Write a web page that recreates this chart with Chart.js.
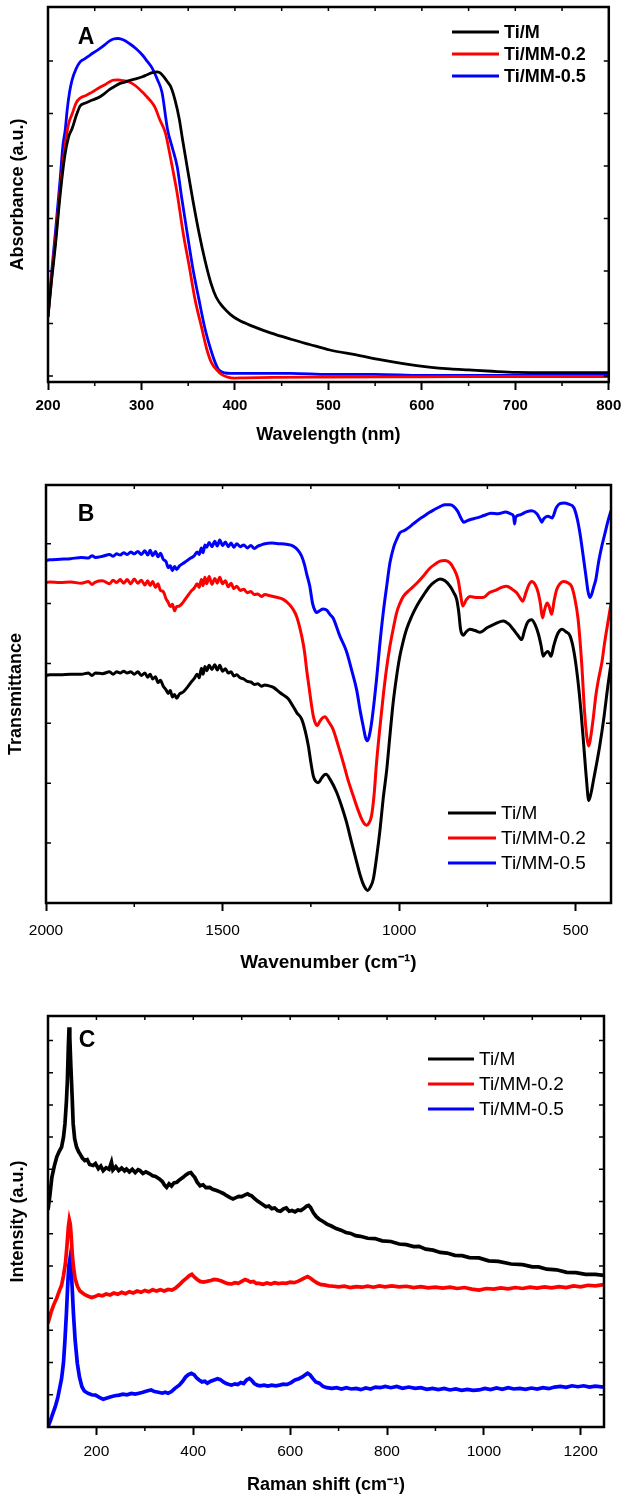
<!DOCTYPE html>
<html>
<head>
<meta charset="utf-8">
<script src="https://cdn.jsdelivr.net/npm/chart.js@4.4.0/dist/chart.umd.min.js"></script>
<style>
  html, body { margin: 0; padding: 0; background: #fff; }
  canvas { display: block; }
</style>
</head>
<body>
<canvas id="chart-a" width="628" height="470"></canvas>
<canvas id="chart-b" width="628" height="510"></canvas>
<canvas id="chart-c" width="628" height="518"></canvas>
<script>
const FONT = "'Liberation Sans', Arial, Helvetica, sans-serif";
Chart.defaults.font.family = FONT;
Chart.defaults.color = '#000';

const seriesNames = ['Ti/M', 'Ti/MM-0.2', 'Ti/MM-0.5'];
const seriesColors = ['#000000', '#ff0000', '#0000ff'];

// (A) UV-Vis absorbance, [wavelength nm, a.u.]
const uvTicks = [200, 300, 400, 500, 600, 700, 800];
const uvTiM = [[200,0.225],[204,0.37],[208,0.50],[213,0.69],[218,0.84],[222,0.91],[226,0.945],[230,0.99],[234.4,1.029],[240,1.04],[245,1.048],[250,1.055],[255.6,1.064],[261,1.078],[266,1.092],[272,1.105],[277,1.115],[282,1.12],[287,1.126],[294,1.132],[301,1.14],[306,1.148],[311.6,1.156],[316,1.159],[320,1.155],[324,1.14],[328,1.12],[331.6,1.10],[336,1.05],[340.4,0.98],[344,0.90],[348.9,0.796],[355,0.67],[361.6,0.545],[368,0.44],[374.3,0.354],[380,0.30],[387.1,0.263],[395,0.235],[404,0.213],[420,0.188],[438,0.164],[460,0.14],[480,0.12],[501.6,0.099],[530,0.08],[556.7,0.061],[580,0.047],[607.6,0.034],[630,0.027],[650,0.023],[675,0.018],[701,0.014],[750,0.013],[800,0.0125]];
const uvTiMM02 = [[200,0.225],[204,0.38],[208,0.52],[213,0.71],[218,0.87],[222,0.96],[226,1.0],[230,1.04],[234.4,1.059],[240,1.068],[245,1.077],[250,1.088],[255.6,1.10],[261,1.11],[266,1.121],[270,1.127],[275,1.128],[281,1.125],[287,1.12],[294,1.105],[301,1.082],[306,1.063],[311.6,1.04],[315,1.02],[319.2,0.98],[325.6,0.926],[329,0.87],[333,0.796],[338,0.70],[344.6,0.545],[351,0.42],[357.4,0.29],[364,0.19],[370.1,0.099],[375,0.05],[380.7,0.023],[386,0.005],[392,-0.004],[399.8,-0.008],[410,-0.007],[440,-0.005],[500,-0.004],[600,-0.003],[700,-0.002],[800,-0.002]];
const uvTiMM05 = [[200,0.225],[204,0.40],[208,0.55],[213,0.75],[216,0.88],[218.5,0.94],[220.5,1.013],[223,1.08],[225.8,1.128],[230,1.17],[234.4,1.197],[240,1.21],[245,1.223],[250,1.235],[255.6,1.248],[261,1.263],[266,1.277],[270,1.284],[275,1.286],[281,1.28],[287,1.267],[294,1.248],[301,1.223],[306,1.2],[311.6,1.172],[317,1.13],[322,1.08],[328,0.937],[333,0.87],[338.3,0.796],[343,0.68],[348.9,0.545],[355,0.41],[361.6,0.29],[368,0.18],[374.3,0.099],[379,0.05],[382.8,0.023],[389,0.012],[395.5,0.01],[420,0.01],[460,0.01],[500,0.006],[550,0.006],[600,0.002],[700,0.002],[800,0.002]];

// (B) FTIR transmittance, [wavenumber cm-1, a.u.]
const irTicks = [2000, 1500, 1000, 500];
const irTiM = [[2000,3.80],[1990,3.81],[1960,3.81],[1930,3.82],[1900,3.82],[1880,3.84],[1870,3.80],[1860,3.84],[1840,3.83],[1820,3.86],[1810,3.82],[1800,3.86],[1790,3.84],[1780,3.87],[1770,3.84],[1760,3.86],[1750,3.82],[1740,3.86],[1730,3.80],[1720,3.84],[1712,3.77],[1705,3.82],[1698,3.74],[1690,3.78],[1683,3.68],[1676,3.72],[1668,3.62],[1660,3.56],[1654,3.50],[1648,3.55],[1642,3.44],[1636,3.48],[1630,3.42],[1622,3.49],[1612,3.52],[1600,3.60],[1590,3.68],[1580,3.75],[1572,3.82],[1566,3.76],[1560,3.92],[1555,3.82],[1550,3.95],[1545,3.88],[1538,3.97],[1530,3.90],[1522,3.98],[1515,3.89],[1508,3.97],[1500,3.87],[1492,3.91],[1484,3.84],[1476,3.86],[1468,3.79],[1460,3.81],[1450,3.76],[1440,3.74],[1430,3.70],[1420,3.69],[1410,3.65],[1400,3.66],[1390,3.62],[1380,3.64],[1371,3.63],[1356,3.60],[1337,3.51],[1314,3.41],[1300,3.28],[1290,3.18],[1276,3.07],[1265,2.85],[1257,2.62],[1250,2.35],[1243,2.12],[1236,2.03],[1229,2.01],[1220,2.08],[1212,2.14],[1207,2.15],[1195,2.06],[1177,1.85],[1163,1.62],[1149,1.35],[1135,1.02],[1120,0.68],[1110,0.46],[1102,0.32],[1095,0.24],[1089,0.21],[1082,0.26],[1073,0.4],[1063,0.8],[1054,1.23],[1045,1.75],[1035,2.23],[1026,2.8],[1017,3.34],[1008,3.75],[998,4.12],[988,4.38],[979,4.57],[965,4.78],[950,4.96],[930,5.15],[913,5.29],[900,5.36],[884,5.41],[870,5.38],[856,5.29],[845,5.18],[837,5.07],[831,4.85],[826,4.57],[818,4.47],[810,4.53],[800,4.57],[785,4.55],[771,4.52],[750,4.6],[733,4.65],[705,4.71],[690,4.66],[677,4.57],[665,4.48],[653,4.4],[645,4.55],[637,4.68],[625,4.73],[615,4.65],[606,4.5],[598,4.3],[592,4.12],[586,4.17],[579,4.2],[574,4.16],[570,4.12],[562,4.3],[553,4.47],[545,4.55],[539,4.57],[528,4.53],[516,4.46],[505,4.2],[494,3.73],[485,3.2],[477,2.62],[470,2.1],[463,1.71],[456,1.85],[449,2.07],[440,2.35],[432,2.62],[420,3.1],[409,3.62],[400,4.0]];
const irTiMM02 = [[2000,5.35],[1990,5.36],[1960,5.35],[1930,5.36],[1900,5.34],[1880,5.37],[1870,5.32],[1860,5.36],[1840,5.38],[1820,5.33],[1810,5.39],[1800,5.35],[1790,5.40],[1780,5.34],[1770,5.40],[1760,5.33],[1750,5.41],[1740,5.34],[1730,5.39],[1720,5.31],[1712,5.38],[1705,5.30],[1698,5.37],[1690,5.27],[1683,5.33],[1676,5.22],[1668,5.20],[1660,5.08],[1654,5.02],[1648,4.95],[1642,4.99],[1636,4.88],[1630,4.95],[1622,4.96],[1612,5.02],[1600,5.12],[1590,5.20],[1580,5.26],[1572,5.33],[1566,5.27],[1560,5.40],[1555,5.30],[1550,5.44],[1545,5.33],[1538,5.45],[1530,5.32],[1522,5.42],[1515,5.34],[1508,5.44],[1500,5.33],[1492,5.38],[1484,5.28],[1476,5.34],[1468,5.25],[1460,5.29],[1450,5.22],[1440,5.24],[1430,5.18],[1420,5.20],[1410,5.15],[1400,5.16],[1390,5.12],[1380,5.15],[1366,5.13],[1350,5.11],[1328,5.07],[1310,4.98],[1300,4.9],[1290,4.78],[1276,4.46],[1268,4.2],[1262,3.9],[1255,3.6],[1248,3.3],[1243,3.12],[1237,3.0],[1232,2.96],[1225,3.03],[1217,3.09],[1210,3.11],[1200,3.03],[1187,2.9],[1172,2.62],[1158,2.34],[1145,2.06],[1130,1.79],[1118,1.58],[1106,1.4],[1098,1.32],[1092,1.3],[1085,1.34],[1078,1.46],[1071,1.8],[1064,2.34],[1055,2.9],[1045,3.46],[1036,3.9],[1026,4.29],[1016,4.6],[1007,4.85],[998,5.0],[988,5.12],[970,5.23],[950,5.34],[930,5.47],[913,5.59],[900,5.65],[884,5.71],[870,5.72],[856,5.68],[845,5.58],[833,5.40],[826,5.15],[820,4.96],[810,5.06],[800,5.12],[780,5.1],[762,5.10],[745,5.18],[724,5.23],[710,5.27],[696,5.29],[680,5.24],[667,5.18],[658,5.10],[650,5.04],[640,5.2],[632,5.32],[625,5.37],[615,5.32],[606,5.18],[600,5.0],[594,4.76],[588,4.9],[581,5.01],[575,4.95],[568,4.82],[561,5.05],[554,5.23],[545,5.33],[535,5.37],[523,5.35],[512,5.29],[503,5.1],[493,4.73],[483,4.0],[475,3.2],[468,2.75],[463,2.62],[458,2.75],[450,3.1],[443,3.46],[435,3.75],[426,4.01],[418,4.35],[409,4.68],[400,5.0]];
const irTiMM05 = [[2000,5.72],[1990,5.73],[1960,5.74],[1930,5.75],[1900,5.77],[1880,5.76],[1870,5.80],[1860,5.77],[1840,5.79],[1820,5.82],[1810,5.79],[1800,5.83],[1790,5.81],[1780,5.85],[1770,5.82],[1760,5.86],[1750,5.83],[1740,5.87],[1730,5.82],[1720,5.88],[1712,5.81],[1705,5.89],[1698,5.80],[1690,5.87],[1683,5.78],[1676,5.84],[1668,5.74],[1660,5.70],[1654,5.60],[1648,5.63],[1642,5.55],[1636,5.62],[1630,5.57],[1622,5.63],[1612,5.67],[1600,5.72],[1590,5.76],[1580,5.80],[1572,5.86],[1566,5.82],[1560,5.93],[1555,5.85],[1550,5.98],[1545,5.94],[1538,6.02],[1530,5.95],[1522,6.04],[1515,5.96],[1508,6.06],[1500,5.97],[1492,6.03],[1484,5.95],[1476,6.01],[1468,5.94],[1460,6.00],[1450,5.95],[1440,5.98],[1430,5.93],[1420,5.97],[1410,5.92],[1400,5.96],[1390,5.98],[1380,6.00],[1360,6.01],[1340,6.00],[1320,5.99],[1300,5.96],[1285,5.88],[1276,5.79],[1268,5.65],[1262,5.50],[1253,5.29],[1245,5.00],[1238,4.88],[1234,4.85],[1225,4.88],[1215,4.91],[1205,4.89],[1196,4.82],[1187,4.76],[1168,4.46],[1149,4.2],[1135,3.9],[1120,3.55],[1110,3.2],[1102,2.96],[1095,2.76],[1090,2.71],[1085,2.78],[1078,3.01],[1070,3.4],[1064,3.73],[1055,4.3],[1045,4.85],[1035,5.3],[1026,5.68],[1015,5.95],[1007,6.07],[998,6.18],[985,6.22],[975,6.26],[960,6.33],[945,6.4],[930,6.46],[915,6.52],[900,6.57],[884,6.62],[870,6.65],[856,6.65],[845,6.62],[834,6.54],[825,6.43],[817,6.36],[808,6.38],[800,6.40],[780,6.43],[760,6.47],[740,6.51],[720,6.50],[698,6.53],[685,6.50],[676,6.46],[673,6.33],[670,6.44],[658,6.48],[640,6.53],[624,6.55],[610,6.50],[600,6.40],[596,6.36],[590,6.42],[579,6.46],[567,6.43],[555,6.60],[545,6.67],[533,6.68],[520,6.66],[505,6.60],[495,6.40],[488,6.18],[480,5.85],[471,5.46],[465,5.2],[460,5.1],[455,5.15],[448,5.3],[443,5.4],[435,5.7],[426,5.96],[418,6.15],[409,6.37],[400,6.55]];

// (C) Raman intensity, [shift cm-1, a.u.]
const ramanTicks = [200, 400, 600, 800, 1000, 1200];
const ramanTiM = [[100,6.74],[104,7.2],[108,7.75],[113,8.1],[118,8.38],[123,8.55],[128,8.69],[132,9.0],[135,9.41],[138,10.1],[140,10.75],[142,11.8],[143.5,12.41],[145,12.1],[147,11.27],[150,10.2],[152,9.41],[155,8.95],[159,8.69],[163,8.55],[166,8.48],[171,8.35],[176,8.27],[181,8.3],[186,8.15],[193,8.12],[198,8.18],[204,8.02],[209,8.1],[214,7.96],[220,8.05],[226,8.0],[231,8.22],[234,7.98],[240,8.08],[246,7.96],[252,8.04],[258,7.95],[262,8.01],[268,7.92],[274,8.0],[280,7.9],[286,7.99],[290,7.96],[296,7.87],[302,7.92],[310,7.86],[316,7.8],[322,7.78],[330,7.7],[336,7.62],[341,7.5],[345,7.44],[350,7.55],[355,7.48],[360,7.58],[366,7.6],[372,7.68],[379,7.75],[384,7.82],[390,7.88],[395,7.9],[399,7.82],[403,7.75],[408,7.6],[414,7.49],[420,7.52],[426,7.43],[434,7.44],[440,7.38],[448,7.34],[455,7.3],[462,7.25],[469,7.18],[476,7.12],[482,7.08],[488,7.12],[494,7.16],[500,7.15],[506,7.2],[512,7.24],[516,7.2],[520,7.18],[526,7.1],[532,7.02],[538,6.96],[544,6.9],[550,6.84],[556,6.86],[562,6.78],[568,6.8],[574,6.72],[580,6.7],[586,6.77],[592,6.8],[598,6.7],[604,6.72],[610,6.68],[616,6.74],[622,6.72],[628,6.78],[634,6.86],[638,6.88],[642,6.82],[648,6.65],[654,6.53],[660,6.45],[668,6.38],[676,6.3],[685,6.24],[695,6.16],[705,6.11],[715,6.04],[725,6.01],[735,5.94],[745,5.92],[760,5.86],[775,5.85],[790,5.78],[808,5.76],[825,5.68],[840,5.66],[855,5.6],[866,5.61],[880,5.52],[895,5.49],[910,5.42],[924,5.4],[940,5.33],[955,5.32],[970,5.26],[990,5.25],[1010,5.16],[1030,5.14],[1056,5.06],[1080,5.04],[1100,4.97],[1113,4.97],[1130,4.9],[1150,4.88],[1171,4.8],[1190,4.79],[1210,4.74],[1230,4.74],[1248,4.71]];
const ramanTiMM02 = [[100,3.22],[106,3.55],[112,3.8],[118,4.0],[124,4.25],[128,4.4],[132,4.7],[136,5.08],[139,5.6],[142,6.2],[144,6.43],[146,6.3],[148,5.9],[150,5.4],[152.5,4.98],[156,4.6],[161,4.36],[166,4.22],[172,4.15],[177,4.1],[183,4.06],[190,4.02],[197,4.05],[204,4.1],[212,4.07],[220,4.13],[228,4.1],[236,4.16],[244,4.12],[252,4.18],[260,4.14],[268,4.2],[276,4.16],[284,4.22],[292,4.18],[300,4.24],[308,4.2],[316,4.26],[324,4.22],[332,4.26],[340,4.22],[348,4.27],[356,4.25],[363,4.31],[370,4.4],[378,4.52],[386,4.62],[392,4.7],[397,4.74],[402,4.66],[408,4.58],[414,4.52],[421,4.5],[428,4.52],[436,4.55],[443,4.58],[450,4.57],[458,4.53],[466,4.48],[472,4.45],[479,4.44],[486,4.48],[493,4.46],[500,4.52],[507,4.58],[512,4.55],[518,4.5],[524,4.52],[530,4.46],[536,4.46],[544,4.43],[552,4.47],[560,4.44],[568,4.48],[576,4.45],[584,4.47],[592,4.46],[600,4.5],[608,4.48],[616,4.52],[624,4.58],[630,4.63],[636,4.67],[642,4.62],[648,4.55],[656,4.47],[664,4.42],[670,4.41],[680,4.38],[690,4.37],[700,4.35],[712,4.37],[724,4.33],[736,4.36],[748,4.34],[760,4.37],[772,4.34],[784,4.38],[796,4.35],[810,4.38],[825,4.35],[840,4.37],[855,4.33],[870,4.36],[885,4.32],[900,4.34],[915,4.31],[930,4.34],[945,4.3],[960,4.33],[975,4.28],[990,4.25],[1005,4.3],[1020,4.28],[1035,4.32],[1050,4.29],[1065,4.33],[1080,4.3],[1095,4.34],[1110,4.31],[1125,4.35],[1140,4.32],[1155,4.36],[1170,4.33],[1185,4.38],[1200,4.35],[1215,4.4],[1230,4.38],[1248,4.42]];
const ramanTiMM05 = [[100,0.01],[105,0.2],[110,0.42],[115,0.63],[120,0.9],[124,1.2],[128,1.5],[132,2.0],[135,2.7],[138,3.53],[141,4.5],[143,5.0],[145.5,5.24],[147.5,5.0],[150,4.3],[152.5,3.53],[156,2.7],[160.5,1.98],[165,1.55],[170,1.25],[175,1.12],[182,1.05],[190,1.0],[198,0.99],[206,0.92],[214,0.86],[222,0.9],[230,0.94],[238,0.97],[247,0.99],[255,1.02],[263,1.0],[272,1.04],[280,1.02],[288,1.05],[296,1.08],[304,1.12],[313,1.15],[320,1.1],[328,1.08],[336,1.05],[342,1.08],[348,1.05],[355,1.1],[362,1.2],[371,1.3],[378,1.42],[384,1.55],[390,1.63],[396,1.67],[402,1.62],[407,1.52],[412,1.46],[418,1.4],[424,1.42],[429,1.36],[436,1.42],[443,1.46],[450,1.5],[456,1.47],[462,1.4],[468,1.35],[474,1.32],[479,1.3],[486,1.34],[492,1.32],[498,1.38],[504,1.35],[510,1.46],[516,1.51],[520,1.46],[526,1.35],[532,1.3],[538,1.28],[546,1.3],[554,1.27],[562,1.3],[570,1.28],[578,1.3],[586,1.33],[594,1.32],[602,1.38],[610,1.46],[618,1.5],[626,1.56],[632,1.63],[636,1.67],[641,1.62],[647,1.5],[653,1.4],[660,1.36],[668,1.26],[676,1.22],[686,1.2],[696,1.22],[706,1.18],[716,1.22],[726,1.18],[736,1.2],[746,1.16],[756,1.21],[766,1.18],[776,1.24],[786,1.22],[796,1.26],[808,1.22],[820,1.26],[832,1.2],[845,1.24],[858,1.2],[870,1.22],[882,1.17],[894,1.2],[906,1.16],[918,1.2],[930,1.15],[942,1.18],[954,1.14],[966,1.17],[978,1.14],[990,1.15],[1002,1.2],[1014,1.16],[1026,1.21],[1038,1.17],[1050,1.22],[1062,1.18],[1074,1.2],[1086,1.17],[1098,1.21],[1110,1.18],[1122,1.22],[1134,1.19],[1146,1.24],[1158,1.26],[1170,1.23],[1182,1.28],[1194,1.25],[1206,1.28],[1218,1.24],[1230,1.27],[1248,1.24]];

// tick mark positions between the labelled ones
function range(a, b, step) {
    const out = [];
    for (let v = a; v <= b + 1e-9; v += step) out.push(+v.toFixed(4));
    return out;
}

// box, inner ticks, panel letter and legend
const panelPlugin = {
    id: 'panel',
    afterDraw(chart, args, o) {
        const { ctx, chartArea: a } = chart;
        const xs = chart.scales.x, ys = chart.scales.y;
        ctx.save();
        ctx.strokeStyle = '#000';
        ctx.lineWidth = 1.5;
        ctx.beginPath();
        o.yMarks.forEach(v => {
            const py = ys.getPixelForValue(v);
            ctx.moveTo(a.left, py); ctx.lineTo(a.left + 5, py);
            ctx.moveTo(a.right, py); ctx.lineTo(a.right - 5, py);
        });
        o.topMarks.forEach(v => {
            const px = xs.getPixelForValue(v);
            ctx.moveTo(px, a.top); ctx.lineTo(px, a.top + 4);
        });
        o.minorMarks.forEach(v => {
            const px = xs.getPixelForValue(v);
            ctx.moveTo(px, a.bottom); ctx.lineTo(px, a.bottom + 4);
        });
        ctx.stroke();
        ctx.lineWidth = 2.5;
        ctx.strokeRect(a.left, a.top, a.right - a.left, a.bottom - a.top);

        ctx.fillStyle = '#000';
        ctx.font = 'bold 23px ' + FONT;
        ctx.textAlign = 'center';
        ctx.textBaseline = 'middle';
        ctx.fillText(o.letter, o.letterAt[0], o.letterAt[1]);

        ctx.font = (o.legendBold ? 'bold ' : '') + o.legendSize + 'px ' + FONT;
        ctx.textAlign = 'left';
        chart.data.datasets.forEach((ds, i) => {
            const y = o.legendAt[2] + i * o.legendGap;
            ctx.strokeStyle = ds.borderColor;
            ctx.lineWidth = 3;
            ctx.beginPath();
            ctx.moveTo(o.legendAt[0], y);
            ctx.lineTo(o.legendAt[1], y);
            ctx.stroke();
            ctx.fillText(ds.label, o.legendAt[1] + 5, y + 1);
        });
        ctx.restore();
    }
};

function lineSet(points, i, width) {
    return {
        label: seriesNames[i],
        data: points.map(p => ({ x: p[0], y: p[1] })),
        borderColor: seriesColors[i],
        borderWidth: width,
        pointRadius: 0,
        fill: false
    };
}

function buildChart(id, o) {
    return new Chart(document.getElementById(id), {
        type: 'line',
        data: { datasets: o.sets },
        options: {
            responsive: false,
            animation: false,
            layout: { padding: o.pad },
            elements: { line: { tension: o.tension, cubicInterpolationMode: o.cubic } },
            plugins: { legend: { display: false }, tooltip: { enabled: false }, panel: o.panel },
            scales: {
                x: {
                    type: 'linear',
                    min: o.xMin, max: o.xMax, reverse: !!o.reverse,
                    afterBuildTicks: s => { s.ticks = o.xTicks.map(v => ({ value: v })); },
                    afterFit: s => { s.height = o.xHeight; },
                    grid: { drawOnChartArea: false, color: '#000', tickLength: 8, tickWidth: 2 },
                    border: { display: false },
                    ticks: {
                        font: o.tickFont, padding: o.tickPad, maxRotation: 0, autoSkip: false,
                        callback: v => String(v)
                    },
                    title: { display: true, text: o.xTitle, font: o.xTitleFont, padding: { top: 0, bottom: o.xTitlePad } }
                },
                y: {
                    type: 'linear',
                    min: o.yMin, max: o.yMax,
                    afterFit: s => { s.width = o.yWidth; },
                    grid: { display: false },
                    border: { display: false },
                    ticks: { display: false },
                    title: { display: true, text: o.yTitle, font: { weight: 'bold', size: 18 }, padding: { top: o.yTitlePad, bottom: 0 } }
                }
            }
        },
        plugins: [panelPlugin]
    });
}

buildChart('chart-a', {
    sets: [lineSet(uvTiM, 0, 2.8), lineSet(uvTiMM02, 1, 2.8), lineSet(uvTiMM05, 2, 2.8)],
    pad: { left: 0, right: 15, top: 7, bottom: 0 },
    tension: 0.4, cubic: 'monotone',
    xMin: 200, xMax: 800, xTicks: uvTicks, xHeight: 88,
    yMin: -0.0229, yMax: 1.406, yWidth: 48,
    tickFont: { weight: 'bold', size: 15 }, tickPad: 6.7,
    xTitle: 'Wavelength (nm)', xTitleFont: { weight: 'bold', size: 18 }, xTitlePad: 24.2,
    yTitle: 'Absorbance (a.u.)', yTitlePad: 7,
    panel: {
        yMarks: range(0, 1.2, 0.2), topMarks: range(250, 750, 50), minorMarks: range(250, 750, 100),
        letter: 'A', letterAt: [86, 38],
        legendAt: [452, 499, 32], legendGap: 22, legendSize: 18, legendBold: true
    }
});

buildChart('chart-b', {
    sets: [lineSet(irTiM, 0, 3), lineSet(irTiMM02, 1, 3), lineSet(irTiMM05, 2, 3)],
    pad: { left: 0, right: 17, top: 15, bottom: 0 },
    tension: 0.4, cubic: 'monotone',
    xMin: 400, xMax: 2000, reverse: true, xTicks: irTicks, xHeight: 77,
    yMin: 0, yMax: 6.98, yWidth: 46,
    tickFont: { size: 15.5 }, tickPad: 10.4,
    xTitle: 'Wavenumber (cm\u207B\u00B9)', xTitleFont: { weight: 'bold', size: 19 }, xTitlePad: 5.6,
    yTitle: 'Transmittance', yTitlePad: 5.2,
    panel: {
        yMarks: range(1, 6, 1), topMarks: range(500, 1750, 250), minorMarks: [1750, 1250, 750],
        letter: 'B', letterAt: [86, 45],
        legendAt: [448, 496, 343], legendGap: 25, legendSize: 19, legendBold: false
    }
});

buildChart('chart-c', {
    sets: [lineSet(ramanTiM, 0, 3.7), lineSet(ramanTiMM02, 1, 3.7), lineSet(ramanTiMM05, 2, 3.7)],
    pad: { left: 0, right: 24, top: 36, bottom: 0 },
    tension: 0, cubic: 'default',
    xMin: 100, xMax: 1248, xTicks: ramanTicks, xHeight: 71,
    yMin: 0, yMax: 12.76, yWidth: 48,
    tickFont: { size: 15.5 }, tickPad: 7.4,
    xTitle: 'Raman shift (cm\u207B\u00B9)', xTitleFont: { weight: 'bold', size: 18 }, xTitlePad: 2.2,
    yTitle: 'Intensity (a.u.)', yTitlePad: 7,
    panel: {
        yMarks: range(1, 12, 1), topMarks: range(200, 1200, 100), minorMarks: range(300, 1100, 200),
        letter: 'C', letterAt: [87, 61],
        legendAt: [428, 474, 79], legendGap: 25, legendSize: 19, legendBold: false
    }
});
</script>
</body>
</html>
